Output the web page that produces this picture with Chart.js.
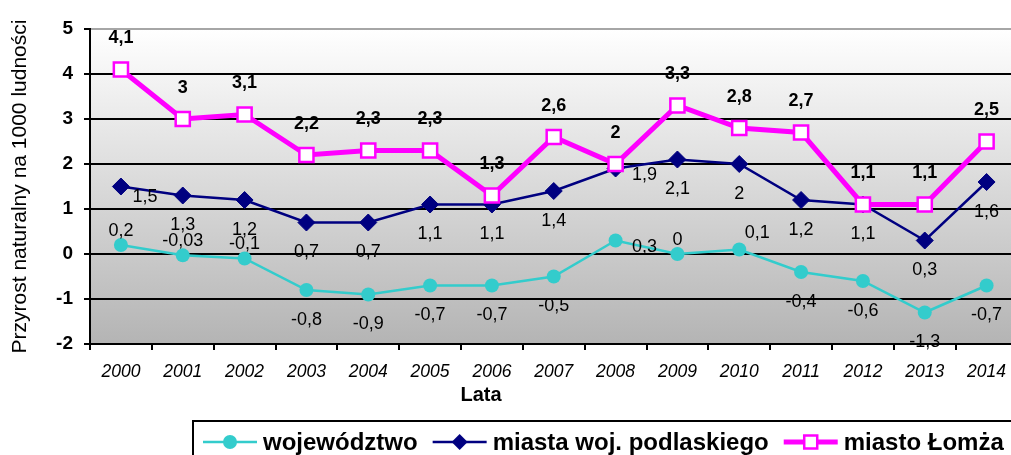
<!DOCTYPE html>
<html>
<head>
<meta charset="utf-8">
<script src="https://cdn.jsdelivr.net/npm/chart.js@4.4.1/dist/chart.umd.min.js"></script>
<style>
  html, body { margin: 0; padding: 0; background: #fff; overflow: hidden; }
  #wrap { width: 1030px; height: 455px; position: relative; }
</style>
</head>
<body>
<div id="wrap"><canvas id="chart"></canvas></div>
<script>
// dane
const lata = ['2000','2001','2002','2003','2004','2005','2006','2007','2008','2009','2010','2011','2012','2013','2014'];
const wojewodztwo = [0.2, -0.03, -0.1, -0.8, -0.9, -0.7, -0.7, -0.5, 0.3, 0, 0.1, -0.4, -0.6, -1.3, -0.7];
const miastaPodlaskie = [1.5, 1.3, 1.2, 0.7, 0.7, 1.1, 1.1, 1.4, 1.9, 2.1, 2, 1.2, 1.1, 0.3, 1.6];
const miastoLomza = [4.1, 3, 3.1, 2.2, 2.3, 2.3, 1.3, 2.6, 2, 3.3, 2.8, 2.7, 1.1, 1.1, 2.5];
const yTicks = [-2, -1, 0, 1, 2, 3, 4, 5];

const FONT = '"Liberation Sans", Arial, sans-serif';
const CYAN = '#33CCCC', NAVY = '#000080', PINK = '#FF00FF';

// polozenie etykiet danych (styl): a = nad, b = pod, r = z prawej
const labelPos = [
    ['a','a','a','b','b','b','b','b','r','a','ar','b','b','b','b'],
    ['r0','b','b','b','b','b','b','b','r','b','b','b','b','b','b'],
    ['a','a','a','a','a','a','a','a','a','a','a','a','a','a','a']
];

function fmt(v) { return String(v).replace('.', ','); }

// tlo z gradientem
const bgPlugin = {
    id: 'bg',
    beforeDraw(chart) {
        const {ctx, chartArea: a} = chart;
        const g = ctx.createLinearGradient(0, a.top, 0, a.bottom);
        g.addColorStop(0, '#ffffff');
        g.addColorStop(1, '#b4b4b4');
        ctx.save();
        ctx.fillStyle = g;
        ctx.fillRect(a.left, a.top, a.right - a.left, a.bottom - a.top);
        ctx.restore();
    },
    afterDraw(chart) {
        // gorna krawedz obszaru wykresu - szara
        const {ctx, chartArea: a} = chart;
        ctx.save();
        ctx.strokeStyle = '#a6a6a6';
        ctx.lineWidth = 2;
        ctx.beginPath();
        ctx.moveTo(a.left + 1, a.top);
        ctx.lineTo(a.right, a.top);
        ctx.stroke();
        ctx.restore();
    }
};

// etykiety wartosci
const labelsPlugin = {
    id: 'vlabels',
    afterDatasetsDraw(chart) {
        const ctx = chart.ctx;
        ctx.save();
        ctx.textAlign = 'center';
        ctx.textBaseline = 'middle';
        chart.data.datasets.forEach((ds, di) => {
            const meta = chart.getDatasetMeta(di);
            ctx.font = (di === 2 ? 'bold ' : '') + '18px ' + FONT;
            ctx.fillStyle = '#000';
            meta.data.forEach((pt, i) => {
                const p = labelPos[di][i];
                let dx = 0, dy = 0;
                if (p === 'a') dy = di === 2 ? -31 : -14;
                else if (p === 'b') dy = 30;
                else if (p === 'r') { dx = 29; dy = 7; }
                else if (p === 'r0') { dx = 24; dy = 11; }
                else if (p === 'ar') { dx = 18; dy = -16; }
                ctx.fillText(fmt(ds.data[i]), pt.x + dx, pt.y + dy);
            });
        });
        ctx.restore();
    }
};

// legenda w ramce + tytul osi X
const legendPlugin = {
    id: 'customLegend',
    afterDraw(chart) {
        const ctx = chart.ctx;
        ctx.save();
        ctx.fillStyle = '#000';
        ctx.font = 'bold 20px ' + FONT;
        ctx.textAlign = 'center';
        ctx.textBaseline = 'middle';
        ctx.fillText('Lata', 481, 395);

        ctx.strokeStyle = '#000';
        ctx.lineWidth = 2;
        ctx.strokeRect(193, 421, 900, 60);

        const cy = 442;
        let x = 203;
        ctx.font = 'bold 24px ' + FONT;
        ctx.textAlign = 'left';
        chart.data.datasets.forEach(ds => {
            ctx.strokeStyle = ds.borderColor;
            ctx.lineWidth = ds.borderWidth;
            ctx.beginPath();
            ctx.moveTo(x, cy);
            ctx.lineTo(x + 54, cy);
            ctx.stroke();
            const mx = x + 27;
            ctx.beginPath();
            if (ds.pointStyle === 'circle') {
                ctx.fillStyle = ds.pointBackgroundColor;
                ctx.arc(mx, cy, 7, 0, Math.PI * 2);
                ctx.fill();
            } else if (ds.pointStyle === 'rectRot') {
                ctx.fillStyle = ds.pointBackgroundColor;
                ctx.moveTo(mx - 8, cy); ctx.lineTo(mx, cy - 8);
                ctx.lineTo(mx + 8, cy); ctx.lineTo(mx, cy + 8);
                ctx.closePath();
                ctx.fill();
            } else {
                ctx.fillStyle = '#fff';
                ctx.rect(mx - 6.5, cy - 6.5, 13, 13);
                ctx.fill();
                ctx.lineWidth = 2.5;
                ctx.strokeStyle = ds.pointBorderColor;
                ctx.stroke();
            }
            ctx.fillStyle = '#000';
            ctx.fillText(ds.label, x + 60, cy + 1);
            x += 60 + ctx.measureText(ds.label).width + 15;
        });
        ctx.restore();
    }
};

new Chart(document.getElementById('chart').getContext('2d'), {
    type: 'line',
    data: {
        labels: lata,
        datasets: [{
            label: 'województwo',
            data: wojewodztwo,
            borderColor: CYAN,
            borderWidth: 2.5,
            pointStyle: 'circle',
            pointRadius: 7,
            pointBackgroundColor: CYAN,
            pointBorderColor: CYAN,
            pointBorderWidth: 0,
            order: 2
        }, {
            label: 'miasta woj. podlaskiego',
            data: miastaPodlaskie,
            borderColor: NAVY,
            borderWidth: 2.5,
            pointStyle: 'rectRot',
            pointRadius: 8.5,
            pointBackgroundColor: NAVY,
            pointBorderColor: NAVY,
            pointBorderWidth: 1,
            order: 1
        }, {
            label: 'miasto Łomża',
            data: miastoLomza,
            borderColor: PINK,
            borderWidth: 5,
            pointStyle: 'rect',
            pointRadius: 10,
            pointBackgroundColor: '#fff',
            pointBorderColor: PINK,
            pointBorderWidth: 2.5,
            order: 0
        }]
    },
    options: {
        responsive: true,
        maintainAspectRatio: false,
        animation: false,
        layout: { padding: { left: 0, top: 29, right: 7, bottom: 61 } },
        plugins: {
            legend: { display: false },
            tooltip: { enabled: false }
        },
        elements: { line: { tension: 0 } },
        scales: {
            x: {
                offset: true,
                afterFit: s => { s.height = 50; },
                grid: {
                    offset: true,
                    drawOnChartArea: false,
                    tickLength: 6,
                    color: '#000',
                    lineWidth: 2
                },
                border: { display: true, color: '#000', width: 2 },
                ticks: {
                    color: '#000',
                    padding: 12,
                    maxRotation: 0,
                    autoSkip: false,
                    font: { family: FONT, size: 17.5, style: 'italic' }
                }
            },
            y: {
                min: yTicks[0],
                max: yTicks[yTicks.length - 1],
                afterFit: s => { s.width = 90; },
                afterBuildTicks: s => { s.ticks = yTicks.map(v => ({ value: v })); },
                grid: {
                    color: c => (c.index === yTicks.length - 1) ? '#a6a6a6' : '#000',
                    tickColor: '#000',
                    lineWidth: 2,
                    tickLength: 6
                },
                border: { display: true, color: '#000', width: 2 },
                ticks: {
                    color: '#000',
                    padding: 11,
                    font: { family: FONT, size: 19, weight: 'bold' }
                },
                title: {
                    display: true,
                    text: 'Przyrost naturalny na 1000 ludności',
                    color: '#000',
                    padding: { top: 8, bottom: 0 },
                    font: { family: FONT, size: 21 }
                }
            }
        }
    },
    plugins: [bgPlugin, labelsPlugin, legendPlugin]
});
</script>
</body>
</html>
